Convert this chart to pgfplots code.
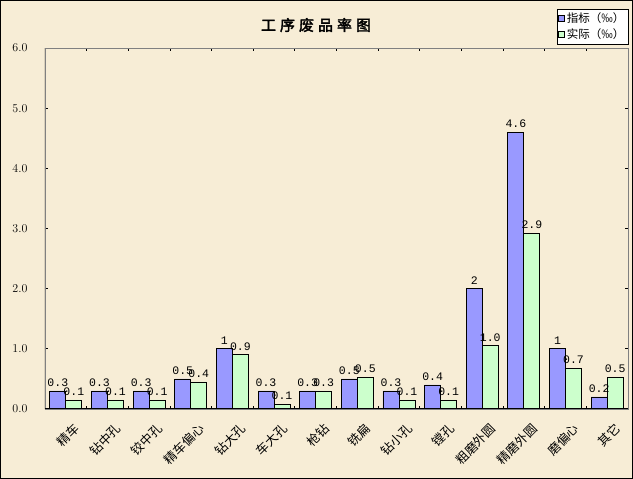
\documentclass[border=0pt]{standalone}
\usepackage{pgfplots}
\pgfplotsset{compat=1.18}
\usepackage{pgfplotstable}
\usepackage{fontspec}
\setmainfont{Noto Sans CJK SC}
\newfontfamily\cjk{Noto Sans CJK SC}
\newfontfamily\cjktitle[FakeBold=2.5]{Noto Sans CJK SC}
\newfontfamily\num{Liberation Mono}
\definecolor{bg}{RGB}{247,237,214}
\definecolor{barblue}{RGB}{153,153,255}
\definecolor{bargreen}{RGB}{204,255,204}
\pgfplotstableread{
x y lab
0 0.3 0.3
1 0.3 0.3
2 0.3 0.3
3 0.5 0.5
4 1.0 1
5 0.3 0.3
6 0.3 0.3
7 0.5 0.5
8 0.3 0.3
9 0.4 0.4
10 2.0 2
11 4.6 4.6
12 1.0 1
13 0.2 0.2
}\zhibiao
\pgfplotstableread{
x y lab
0 0.15 0.1
1 0.15 0.1
2 0.15 0.1
3 0.45 0.4
4 0.9 0.9
5 0.08 0.1
6 0.3 0.3
7 0.53 0.5
8 0.15 0.1
9 0.15 0.1
10 1.05 1.0
11 2.92 2.9
12 0.68 0.7
13 0.53 0.5
}\shiji
\begin{document}
\begin{tikzpicture}
\fill[bg] (-45pt,-70pt) rectangle (588pt,409pt);
\draw[black, line width=1pt] (-44.5pt,-69.5pt) rectangle (587.5pt,408.5pt);
\useasboundingbox (-45pt,-70pt) rectangle (588pt,409pt);
\node[font=\cjktitle\fontsize{15}{15}\selectfont] at (271pt,384pt) {工\hspace{4pt}序\hspace{4pt}废\hspace{4pt}品\hspace{4pt}率\hspace{4pt}图};
\begin{axis}[
  scale only axis, width=583pt, height=361pt,
  ybar=0pt, bar width=16pt,
  xmin=-0.5, xmax=13.5, ymin=0, ymax=6,
  xtick={0,...,13},
  xticklabels={精车,钻中孔,铰中孔,精车偏心,钻大孔,车大孔,枪钻,铣扁,钻小孔,镗孔,粗磨外圆,精磨外圆,磨偏心,其它},
  major x tick style={draw=none},
  minor xtick={0.5,1.5,...,12.5},
  ytick={0,1,...,6},
  tick align=inside, major tick length=3pt, minor tick length=3pt,
  tick style={black, line width=0.8pt},
  yticklabel={\pgfmathprintnumber[fixed,fixed zerofill,precision=1]{\tick}},
  yticklabel style={font=\num\fontsize{11.5}{11.5}\selectfont, anchor=east, xshift=-14pt},
  xticklabel style={font=\cjk\fontsize{12.5}{12.5}\selectfont, rotate=45, anchor=east, yshift=-20pt, xshift=-1pt},
  axis line style={draw=gray},
  nodes near coords,
  point meta=explicit symbolic,
  every node near coord/.append style={font=\num\fontsize{11.5}{11.5}\selectfont, inner sep=1pt, yshift=3pt, black},
  legend style={at={(1,1)}, anchor=south east, yshift=4pt, xshift=0pt, draw=black, fill=white,
    font=\cjk\fontsize{11.5}{13}\selectfont, inner sep=1.5pt, row sep=1pt, legend cell align=left},
  legend image code/.code={\draw[#1,draw=black,line width=0.6pt] (0pt,-3pt) rectangle (6pt,3pt);},
]
\addplot[fill=barblue, draw=black, line width=0.8pt] table[x=x,y=y,meta=lab] {\zhibiao};
\addplot[fill=bargreen, draw=black, line width=0.8pt] table[x=x,y=y,meta=lab] {\shiji};
\legend{指标（‰）,实际（‰）}
\draw[black, line width=1pt] (axis cs:-0.5,6) -- (axis cs:-0.5,0) -- (axis cs:13.5,0);
\end{axis}
\end{tikzpicture}
\end{document}
